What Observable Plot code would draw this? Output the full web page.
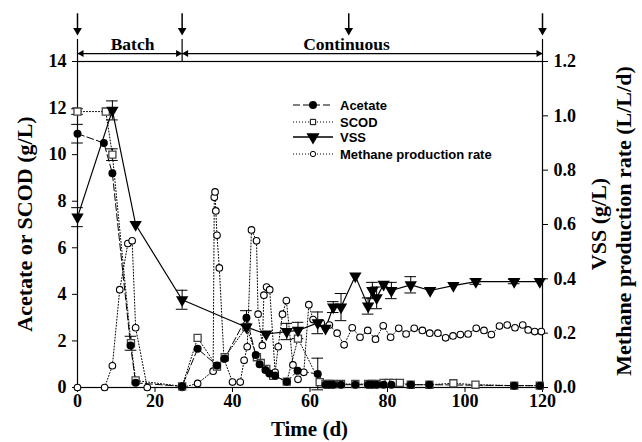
<!DOCTYPE html>
<html>
<head>
<meta charset="utf-8">
<script src="https://cdn.jsdelivr.net/npm/d3@7"></script>
<script src="https://cdn.jsdelivr.net/npm/@observablehq/plot@0.6"></script>
<style>
  html, body { margin: 0; padding: 0; background: #fff; }
</style>
</head>
<body>
<div id="chart"></div>
<script>
// ---------- data ----------
const xTicks = [0, 20, 40, 60, 80, 100, 120];
const leftTicks = [0, 2, 4, 6, 8, 10, 12, 14];
const rightTicks = [0, 0.2, 0.4, 0.6, 0.8, 1.0, 1.2];

const acetateDays = [0,6.8,9,13.7,15,27,31,36,38,43.6,46,47,48.5,49.5,51,54,56.8,62,64,65,66,68,71.7,75,76,77.2,79,81,86,90.8,112.7,119.3];
const acetateGL   = [10.9,10.5,9.2,1.8,0.2,0.05,1.66,0.95,1.25,3.0,1.4,1.0,0.75,0.6,0.5,0.25,0.72,0.58,0.12,0.12,0.12,0.12,0.12,0.12,0.12,0.12,0.12,0.12,0.12,0.12,0.08,0.08];
const acetateErrDays = [0, 43.6, 62];
const acetateErrHalf = [0.4, 0.3, 0.68];

const scodDays = [0,7.3,9,13.8,15,27,31,36,38,43.6,46.3,47.3,48.7,50.5,54,56.9,62.5,64,65,66,68,71.7,75,76,77.2,79,80.3,81.5,83.2,86,90.8,97,102.7,112.7,119.3];
const scodGL   = [11.85,11.85,10.0,1.9,0.3,0.05,2.13,0.9,1.3,2.6,1.3,1.05,0.8,0.5,0.25,2.1,0.23,0.15,0.15,0.15,0.15,0.15,0.15,0.15,0.15,0.2,0.2,0.2,0.2,0.12,0.12,0.18,0.12,0.08,0.08];
const scodErrDays = [0, 9, 13.8];
const scodErrHalf = [0.12, 0.25, 0.3];

const vssDays = [0,9,15,27,43.6,48.7,54,56.9,62,64,66,68,71.7,75,76.1,77.2,79,81,86,91,97,102.8,112.7,119.3];
const vssGL   = [0.627,1.02,0.60,0.323,0.222,0.197,0.206,0.21,0.238,0.218,0.296,0.296,0.41,0.30,0.357,0.33,0.38,0.357,0.378,0.357,0.375,0.39,0.39,0.39];
const vssErrDays = [0,9,27,54,56.9,62,66,68,75,76.1,77.2,81,86,102.8,112.7];
const vssErrHalf = [0.035,0.035,0.035,0.03,0.03,0.04,0.02,0.05,0.03,0.03,0.04,0.03,0.03,0.01,0.008];

const methaneDays = [0,7,9,10.9,13,14.1,15,18,27,31,35,35.3,35.5,35.7,36,36.6,37.8,40,42,43,43.8,44.9,46.2,46.6,47.7,48.1,48.8,49.6,51,51.8,52.9,53.9,55.6,56.9,58.4,59.7,60.8,62.9,65,67,68.8,70.9,72.9,74.9,76.9,78.9,80.8,82.9,84.8,86.9,89,90.9,93,95,96.9,98.8,100.8,102.9,104.9,106.8,108.9,110.9,112.9,114.9,116.3,118,119.7];
const methaneRate = [0,0,0.08,0.36,0.53,0.54,0.22,0,0,0.015,0.06,0.70,0.72,0.65,0.56,0.44,0.105,0.02,0.02,0.10,0.15,0.58,0.54,0.27,0.155,0.34,0.37,0.36,0.056,0.15,0.27,0.32,0.083,0.03,0.056,0.305,0.25,0.237,0.23,0.20,0.157,0.22,0.185,0.21,0.178,0.227,0.185,0.218,0.197,0.218,0.21,0.20,0.20,0.183,0.19,0.195,0.197,0.218,0.21,0.195,0.226,0.23,0.22,0.23,0.212,0.206,0.206];

const phaseBoundaryDays = [0, 27, 120];
const arrowDays = [0, 27, 70, 120];
const phaseNames = ["Batch", "Continuous"];
const phaseStarts = [0, 27];
const phaseEnds = [27, 120];
const phaseLabelDays = [14.2, 69.4];

const seriesNames = ["Acetate", "SCOD", "VSS", "Methane production rate"];

// ---------- build tables ----------
const k = 14 / 1.2; // right axis -> left axis units
const zip = (xs, ys) => xs.map((x, i) => ({x, y: ys[i]}));
const acetate = zip(acetateDays, acetateGL);
const scod = zip(scodDays, scodGL);
const vss = vssDays.map((x, i) => ({x, y: vssGL[i] * k}));
const methane = methaneDays.map((x, i) => ({x, y: methaneRate[i] * k}));
const errs = [
  ...acetateErrDays.map((d, i) => {const v = acetateGL[acetateDays.indexOf(d)]; return {x: d, lo: v - acetateErrHalf[i], hi: v + acetateErrHalf[i]};}),
  ...scodErrDays.map((d, i) => {const v = scodGL[scodDays.indexOf(d)]; return {x: d, lo: v - scodErrHalf[i], hi: v + scodErrHalf[i]};}),
  ...vssErrDays.map((d, i) => {const v = vssGL[vssDays.indexOf(d)]; return {x: d, lo: (v - vssErrHalf[i]) * k, hi: (v + vssErrHalf[i]) * k};})
];
const caps = errs.flatMap(e => [{x: e.x, y: e.lo}, {x: e.x, y: e.hi}]);
const phases = phaseNames.map((n, i) => ({name: n, start: phaseStarts[i], end: phaseEnds[i], labelX: phaseLabelDays[i]}));

const W = 642, H = 442;
const mL = 77, mR = 100, mT = 61, mB = 55;
const serif = "'Liberation Serif', 'Times New Roman', serif";

// annotation levels above the frame (in left-axis units, unclipped)
const bracketY = 14.34, labelY = 14.72, sepTop = 14.95, arrowTop = 16.05, arrowTip = 15.2;

const chart = Plot.plot({
  width: W, height: H,
  marginLeft: mL, marginRight: mR, marginTop: mT, marginBottom: mB,
  x: {domain: [0, 120]},
  y: {domain: [0, 14]},
  style: {fontFamily: serif, fontSize: "18px", fontWeight: "bold", color: "black", background: "white"},
  marks: [
    Plot.frame({stroke: "black", strokeWidth: 1.2}),
    Plot.axisX(xTicks, {tickSize: 5, tickPadding: 2, label: null, fontSize: 18}),
    Plot.axisY(leftTicks, {anchor: "left", tickSize: 5, tickPadding: 6, label: null, fontSize: 18}),
    Plot.axisY(rightTicks.map(t => t * k), {anchor: "right", tickSize: 5, tickPadding: 6, label: null, fontSize: 18,
      tickFormat: t => (t / k).toFixed(1)}),
    // phase annotations
    Plot.ruleX(phaseBoundaryDays, {y1: 14, y2: sepTop, stroke: "black", strokeWidth: 1.2}),
    Plot.ruleX(arrowDays, {y1: arrowTop, y2: arrowTip + 0.1, stroke: "black", strokeWidth: 1.5}),
    Plot.dot(arrowDays, {x: d => d, y: arrowTip, symbol: "triangle", rotate: 180, r: 3.2, fill: "black", stroke: "none", dy: -3}),
    Plot.ruleY(phases, {x1: "start", x2: "end", y: bracketY, stroke: "black", strokeWidth: 1.2}),
    Plot.dot(phases, {x: "start", y: bracketY, symbol: "triangle", rotate: -90, r: 2.6, fill: "black", stroke: "none", dx: 4}),
    Plot.dot(phases, {x: "end", y: bracketY, symbol: "triangle", rotate: 90, r: 2.6, fill: "black", stroke: "none", dx: -4}),
    Plot.text(phases, {x: "labelX", y: labelY, text: "name", fontSize: 17.5, fontWeight: "bold", fontFamily: serif, fill: "black"}),
    // error bars
    Plot.ruleX(errs, {x: "x", y1: "lo", y2: "hi", stroke: "black", strokeWidth: 1}),
    Plot.ruleY(caps, {x1: d => d.x - 1.5, x2: d => d.x + 1.5, y: "y", stroke: "black", strokeWidth: 1}),
    // lines
    Plot.line(methane, {x: "x", y: "y", stroke: "black", strokeWidth: 1, strokeDasharray: "1,2"}),
    Plot.line(scod, {x: "x", y: "y", stroke: "black", strokeWidth: 1, strokeDasharray: "1,2"}),
    Plot.line(acetate, {x: "x", y: "y", stroke: "black", strokeWidth: 1, strokeDasharray: "7,3"}),
    Plot.line(vss, {x: "x", y: "y", stroke: "black", strokeWidth: 1.2}),
    // markers
    Plot.dot(methane, {x: "x", y: "y", r: 3.3, fill: "white", stroke: "black", strokeWidth: 1.1}),
    Plot.dot(scod, {x: "x", y: "y", symbol: "square", r: 4, fill: "white", stroke: "#444", strokeWidth: 1.3}),
    Plot.dot(acetate, {x: "x", y: "y", r: 4, fill: "black", stroke: "none"}),
    Plot.dot(vss, {x: "x", y: "y", symbol: "triangle", rotate: 180, r: 4.6, fill: "black", stroke: "none"})
  ]
});

document.getElementById("chart").appendChild(chart);

// ---------- titles & legend ----------
const svg = d3.select(chart);
const plotMidY = mT + (H - mT - mB) / 2;

svg.append("text").attr("x", mL + (W - mL - mR) / 2).attr("y", 436)
  .attr("text-anchor", "middle").style("font", `bold 21px ${serif}`).text("Time (d)");

svg.append("text").attr("transform", `translate(24,${plotMidY}) rotate(-90)`)
  .attr("text-anchor", "middle").attr("dominant-baseline", "central")
  .style("font", `bold 22px ${serif}`).text("Acetate or SCOD (g/L)");

svg.append("text").attr("transform", `translate(598,${plotMidY}) rotate(-90)`)
  .attr("text-anchor", "middle").attr("dominant-baseline", "central")
  .style("font", `bold 22px ${serif}`).text("VSS (g/L)");

svg.append("text").attr("transform", `translate(623,${plotMidY - 3}) rotate(-90)`)
  .attr("text-anchor", "middle").attr("dominant-baseline", "central")
  .style("font", `bold 22px ${serif}`).text("Methane production rate (L/L/d)");

// legend
const lg = svg.append("g").attr("transform", "translate(293,105)");
const rowY = [0, 17, 32, 49];
const dashes = ["7,3", "1,2", null, "1,2"];
seriesNames.forEach((name, i) => {
  const g = lg.append("g").attr("transform", `translate(0,${rowY[i]})`);
  g.append("line").attr("x1", 0).attr("x2", 40).attr("y1", 0).attr("y2", 0)
    .attr("stroke", "black").attr("stroke-width", i === 2 ? 1.4 : 1.2)
    .attr("stroke-dasharray", dashes[i]);
  const sym = [d3.symbolCircle, d3.symbolSquare, d3.symbolTriangle, d3.symbolCircle][i];
  const size = [50, 28, 75, 22][i];
  g.append("path").attr("d", d3.symbol(sym, size)())
    .attr("transform", `translate(20,0)${i === 2 ? " rotate(180)" : ""}`)
    .attr("fill", i === 0 || i === 2 ? "black" : "white")
    .attr("stroke", i === 0 || i === 2 ? "none" : "black").attr("stroke-width", 1);
  g.append("text").attr("x", 47).attr("y", 0).attr("dominant-baseline", "central")
    .attr("text-anchor", "start")
    .style("font", "bold 13px 'Liberation Sans', Arial, sans-serif").text(name);
});
</script>
</body>
</html>
